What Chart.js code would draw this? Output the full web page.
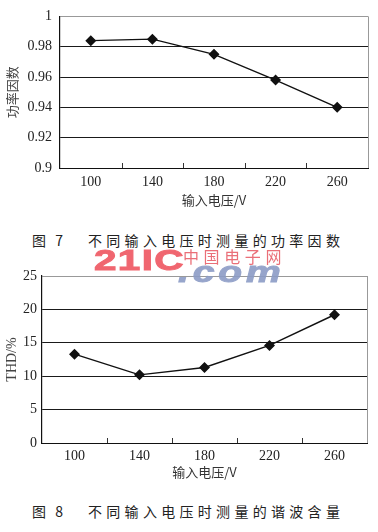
<!DOCTYPE html>
<html>
<head>
<meta charset="utf-8">
<script src="https://cdn.jsdelivr.net/npm/chart.js@4.4.1/dist/chart.umd.min.js"></script>
<style>
  html, body { margin: 0; padding: 0; background: #fff; }
  body { width: 378px; height: 532px; position: relative; overflow: hidden; }
  canvas { position: absolute; left: 0; }
  #c1 { top: 0; }
  #c2 { top: 260px; }
  .cap { position: absolute; left: 0; width: 378px; height: 20px; line-height: 20px;
         font-family: "Noto Sans CJK SC", sans-serif; font-size: 14px; color: #222; white-space: nowrap; }
  .cap .num { position: absolute; left: 32px; letter-spacing: 3px; }
  .cap .txt { position: absolute; left: 88px; letter-spacing: 4.3px; }
  #cap1 { top: 230px; }
  #cap2 { top: 501px; }
  .wm { position: absolute; white-space: nowrap; font-family: "Liberation Sans", sans-serif; }
  #wm21 { left: 94px; top: 243px; font-size: 30px; font-weight: 900; color: #ef5a64;
          letter-spacing: 1px; transform: scaleX(1.35); transform-origin: left top; opacity: 0.92;
          -webkit-text-stroke: 1px #ef5a64; }
  #wmcn { left: 183px; top: 246px; font-family: "Noto Sans CJK SC", sans-serif; font-size: 16px;
          color: #e8606a; letter-spacing: 4.6px; line-height: 20px; opacity: 0.9; }
  #wmcom { left: 178px; top: 255px; font-size: 30px; font-weight: bold; font-style: italic; color: #8c9cc6;
           letter-spacing: 3px; transform: scaleX(1.3); transform-origin: left top; opacity: 0.9;
           -webkit-text-stroke: 1px #8c9cc6; }
</style>
</head>
<body>
<canvas id="c1" width="378" height="210"></canvas>
<canvas id="c2" width="378" height="220"></canvas>
<div class="cap" id="cap1"><span class="num">图 7</span><span class="txt">不同输入电压时测量的功率因数</span></div>
<div class="cap" id="cap2"><span class="num">图 8</span><span class="txt">不同输入电压时测量的谐波含量</span></div>
<div class="wm" id="wm21">21IC</div>
<div class="wm" id="wmcn">中国电子网</div>
<div class="wm" id="wmcom">.com</div>
<script>
const voltages = ['100', '140', '180', '220', '260'];
const powerFactor = [0.984, 0.985, 0.975, 0.958, 0.940];
const thd = [13.3, 10.2, 11.3, 14.6, 19.2];
const pfAxis = [0.9, 1.0, 0.02];   // min, max, step
const thdAxis = [0, 25, 5];
const xTitle = '输入电压/V';

const serif = "'Liberation Serif', 'Times New Roman', serif";
const cjk = "'Noto Sans CJK SC', sans-serif";

// grey right edge plus short tick marks pointing up into the plot
const framePlugin = {
  id: 'frame',
  beforeDatasetsDraw(chart) {
    const { ctx, chartArea: a, scales: { x } } = chart;
    ctx.save();
    ctx.lineWidth = 1;
    ctx.strokeStyle = '#999';
    ctx.beginPath();
    ctx.moveTo(Math.round(a.right) + 0.5, a.top);
    ctx.lineTo(Math.round(a.right) + 0.5, a.bottom);
    ctx.stroke();
    ctx.strokeStyle = '#333';
    ctx.beginPath();
    for (let i = 0; i < x.ticks.length - 1; i++) {
      const px = Math.round((x.getPixelForTick(i) + x.getPixelForTick(i + 1)) / 2) + 0.5;
      ctx.moveTo(px, a.bottom);
      ctx.lineTo(px, a.bottom - 5);
    }
    ctx.stroke();
    ctx.restore();
  }
};

function makeChart(id, values, range, yTitle, yTitleFont, opts) {
  const [min, max, step] = range;
  return new Chart(document.getElementById(id), {
    type: 'line',
    data: {
      labels: voltages,
      datasets: [{
        data: values,
        borderColor: '#111',
        borderWidth: 1.4,
        pointStyle: 'rectRot',
        pointRadius: 4.5,
        pointBackgroundColor: '#111',
        pointBorderColor: '#111',
        tension: 0
      }]
    },
    options: {
      responsive: false,
      animation: false,
      layout: { padding: { left: 0, right: opts.right, top: opts.top, bottom: 0 } },
      plugins: { legend: { display: false }, tooltip: { enabled: false } },
      scales: {
        x: {
          offset: true,
          grid: { display: false, drawTicks: false },
          border: { color: '#111', width: 1 },
          ticks: { color: '#222', font: { family: serif, size: 14 }, padding: opts.xPad, maxRotation: 0 },
          title: { display: true, text: xTitle, color: '#333', font: { family: cjk, size: 13 },
                   padding: { top: 0, bottom: opts.titlePad } },
          afterFit: s => { s.height = opts.xHeight; }
        },
        y: {
          min: min, max: max,
          grid: {
            drawTicks: false,
            color: c => (c.tick && Math.abs(c.tick.value - max) < 1e-9) ? '#999' : '#1a1a1a',
            lineWidth: 1
          },
          border: { color: '#111', width: 1.2 },
          ticks: {
            stepSize: step, color: '#222', padding: opts.yPad,
            font: { family: serif, size: 14 },
            callback: v => String(Number(v.toFixed(2)))
          },
          title: { display: true, text: yTitle, color: '#444', font: yTitleFont,
                   padding: { top: 4, bottom: 0 } },
          afterFit: s => { s.width = opts.yWidth; }
        }
      }
    },
    plugins: [framePlugin]
  });
}

makeChart('c1', powerFactor, pfAxis, '功率因数', { family: cjk, size: 13 },
  { right: 10, top: 10, xHeight: 42, xPad: 6, titlePad: 2, yPad: 8, yWidth: 60 });

makeChart('c2', thd, thdAxis, 'THD/%', { family: serif, size: 14 },
  { right: 11, top: 16, xHeight: 37, xPad: 5, titlePad: 0, yPad: 5, yWidth: 42 });
</script>
</body>
</html>
